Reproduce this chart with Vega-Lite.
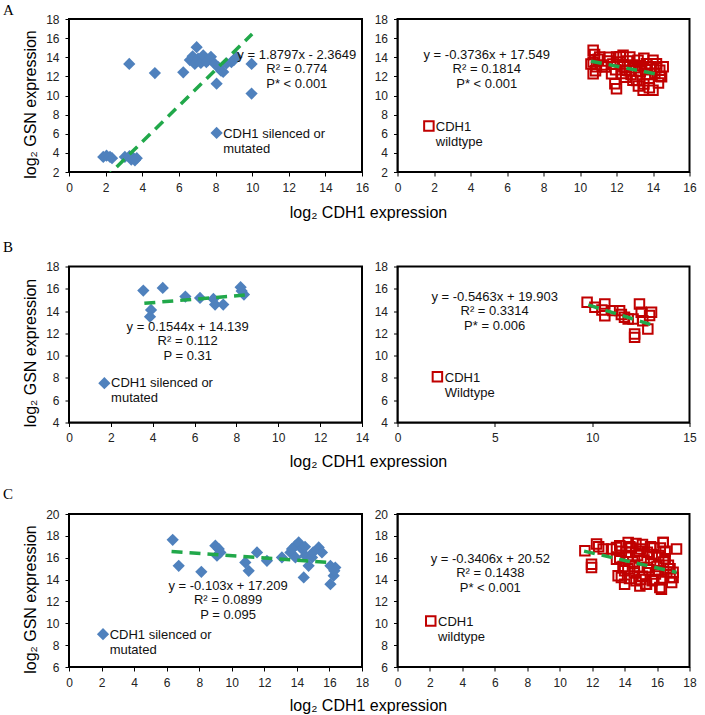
{
"$schema":"https://vega.github.io/schema/vega-lite/v6.json",
"padding":{"left":2,"top":2,"right":0,"bottom":0},
"background":"white",
"bounds":"flush",
"spacing":247.5,
"config":{
 "view":{"stroke":"#000","strokeWidth":2},
 "axis":{"grid":false,"format":"d","tickCount":100,"labelOverlap":false,"labelFlush":false,"labelFont":"Liberation Sans","labelFontSize":12,"labelColor":"#222","domainColor":"#000","domainWidth":1,"tickColor":"#000","tickSize":4,"labelPadding":6,"titleFont":"Liberation Sans","titleFontSize":16,"titleFontWeight":"normal","titleColor":"#000"},
 "text":{"font":"Liberation Sans","fontSize":13,"color":"#111"},
 "title":{"font":"Liberation Serif","fontSize":15,"fontWeight":"normal","color":"#000","anchor":"start","frame":"group","offset":0}
},
"datasets":{
 "aL":[{"x":1.87,"y":3.57},{"x":2.05,"y":3.7},{"x":2.24,"y":3.57},{"x":2.35,"y":3.45},{"x":3.05,"y":3.57},{"x":3.3,"y":3.65},{"x":3.4,"y":3.3},{"x":3.5,"y":3.5},{"x":3.6,"y":3.22},{"x":3.7,"y":3.45},{"x":3.29,"y":13.3},{"x":4.69,"y":12.35},{"x":6.24,"y":12.42},{"x":6.6,"y":13.7},{"x":6.75,"y":14.1},{"x":6.87,"y":13.3},{"x":6.97,"y":15.05},{"x":7.05,"y":13.85},{"x":7.2,"y":13.4},{"x":7.33,"y":14.2},{"x":7.5,"y":13.5},{"x":7.6,"y":13.7},{"x":7.75,"y":14.05},{"x":7.96,"y":13.3},{"x":8.15,"y":12.98},{"x":8.3,"y":12.6},{"x":8.42,"y":12.46},{"x":8.06,"y":11.23},{"x":8.6,"y":13.35},{"x":8.87,"y":13.5},{"x":9.0,"y":13.7},{"x":9.15,"y":14.03},{"x":9.97,"y":13.3},{"x":9.97,"y":10.2}],
 "aR":[{"x":10.72,"y":14.73},{"x":10.8,"y":14.3},{"x":10.6,"y":13.3},{"x":10.72,"y":13.5},{"x":10.72,"y":12.28},{"x":10.9,"y":13.0},{"x":11.0,"y":13.8},{"x":11.08,"y":14.03},{"x":11.2,"y":13.2},{"x":10.85,"y":12.6},{"x":11.36,"y":12.98},{"x":11.5,"y":13.6},{"x":11.73,"y":12.28},{"x":11.8,"y":13.3},{"x":11.91,"y":11.23},{"x":12.0,"y":10.7},{"x":12.0,"y":14.03},{"x":11.6,"y":14.0},{"x":11.95,"y":12.7},{"x":12.2,"y":13.5},{"x":12.36,"y":14.2},{"x":12.55,"y":12.63},{"x":12.4,"y":13.0},{"x":12.73,"y":14.03},{"x":12.6,"y":13.6},{"x":12.8,"y":12.2},{"x":12.9,"y":13.2},{"x":12.5,"y":11.9},{"x":12.3,"y":12.3},{"x":12.9,"y":11.6},{"x":12.2,"y":14.05},{"x":13.18,"y":13.68},{"x":13.1,"y":11.58},{"x":13.3,"y":12.5},{"x":13.46,"y":10.54},{"x":13.5,"y":13.9},{"x":13.64,"y":13.33},{"x":13.5,"y":11.2},{"x":13.7,"y":12.2},{"x":13.8,"y":11.8},{"x":13.9,"y":13.0},{"x":14.0,"y":10.54},{"x":14.0,"y":13.7},{"x":14.19,"y":13.33},{"x":14.1,"y":12.3},{"x":14.37,"y":12.63},{"x":14.3,"y":11.3},{"x":14.47,"y":11.96},{"x":14.56,"y":13.0},{"x":14.2,"y":12.9},{"x":13.3,"y":13.1},{"x":13.0,"y":12.9},{"x":12.7,"y":12.6},{"x":13.6,"y":12.7},{"x":14.4,"y":12.0},{"x":13.2,"y":11.0},{"x":13.8,"y":10.8}],
 "bL":[{"x":3.55,"y":15.84},{"x":4.48,"y":16.08},{"x":3.92,"y":14.1},{"x":3.87,"y":13.5},{"x":5.56,"y":15.3},{"x":6.26,"y":15.18},{"x":6.9,"y":15.09},{"x":6.98,"y":14.58},{"x":7.37,"y":14.58},{"x":8.2,"y":16.14},{"x":8.36,"y":15.48},{"x":8.25,"y":15.8}],
 "bR":[{"x":9.74,"y":14.79},{"x":10.14,"y":14.34},{"x":10.65,"y":14.64},{"x":10.65,"y":13.59},{"x":10.5,"y":14.1},{"x":11.06,"y":14.04},{"x":11.41,"y":14.04},{"x":11.5,"y":13.7},{"x":11.66,"y":13.45},{"x":11.85,"y":13.29},{"x":12.43,"y":14.64},{"x":12.52,"y":13.9},{"x":12.95,"y":13.6},{"x":13.05,"y":13.89},{"x":12.6,"y":13.14},{"x":12.86,"y":12.39},{"x":12.18,"y":11.94},{"x":12.18,"y":11.64},{"x":12.1,"y":13.29}],
 "cL":[{"x":6.37,"y":17.64},{"x":6.74,"y":15.26},{"x":8.13,"y":14.71},{"x":8.99,"y":17.1},{"x":9.2,"y":16.8},{"x":9.3,"y":16.48},{"x":9.09,"y":16.18},{"x":10.83,"y":15.57},{"x":11.04,"y":14.8},{"x":11.55,"y":16.48},{"x":12.16,"y":15.72},{"x":13.08,"y":16.02},{"x":13.6,"y":16.48},{"x":13.91,"y":17.1},{"x":14.11,"y":17.4},{"x":14.31,"y":16.8},{"x":14.52,"y":16.18},{"x":14.72,"y":15.26},{"x":14.42,"y":14.19},{"x":13.91,"y":16.02},{"x":15.34,"y":16.94},{"x":15.54,"y":16.48},{"x":16.06,"y":15.26},{"x":16.36,"y":15.1},{"x":16.26,"y":14.35},{"x":16.06,"y":13.58},{"x":14.93,"y":16.02},{"x":13.7,"y":16.8},{"x":14.5,"y":17.0},{"x":15.0,"y":16.5},{"x":16.3,"y":14.8}],
 "cR":[{"x":11.55,"y":16.64},{"x":11.96,"y":15.41},{"x":11.96,"y":15.1},{"x":12.27,"y":17.25},{"x":12.4,"y":17.0},{"x":12.68,"y":16.79},{"x":13.19,"y":16.79},{"x":13.5,"y":16.94},{"x":13.5,"y":15.87},{"x":13.7,"y":17.1},{"x":14.22,"y":17.4},{"x":14.32,"y":17.0},{"x":16.38,"y":17.4},{"x":17.2,"y":16.79},{"x":13.6,"y":14.35},{"x":13.8,"y":14.19},{"x":14.0,"y":13.58},{"x":13.9,"y":15.2},{"x":13.7,"y":16.0},{"x":14.1,"y":16.5},{"x":14.2,"y":15.0},{"x":14.3,"y":14.1},{"x":14.4,"y":16.9},{"x":14.5,"y":15.6},{"x":14.6,"y":14.6},{"x":14.7,"y":13.9},{"x":14.8,"y":16.2},{"x":14.94,"y":13.42},{"x":14.9,"y":15.1},{"x":15.0,"y":16.8},{"x":15.1,"y":14.3},{"x":15.2,"y":15.8},{"x":15.3,"y":13.6},{"x":15.35,"y":13.58},{"x":15.4,"y":16.5},{"x":15.5,"y":14.9},{"x":15.6,"y":15.5},{"x":15.7,"y":13.9},{"x":15.8,"y":16.9},{"x":15.9,"y":14.5},{"x":16.0,"y":15.2},{"x":16.1,"y":16.2},{"x":16.17,"y":13.27},{"x":16.27,"y":13.12},{"x":16.3,"y":14.0},{"x":16.4,"y":15.6},{"x":16.5,"y":16.6},{"x":16.6,"y":14.7},{"x":16.7,"y":15.3},{"x":16.8,"y":14.2},{"x":16.9,"y":13.73},{"x":16.99,"y":14.19},{"x":16.99,"y":14.66},{"x":16.37,"y":17.4},{"x":16.2,"y":16.9},{"x":15.6,"y":17.0},{"x":15.1,"y":17.2},{"x":14.7,"y":17.3},{"x":14.2,"y":16.2},{"x":14.0,"y":14.8},{"x":15.0,"y":14.0},{"x":15.8,"y":14.0},{"x":16.5,"y":15.9},{"x":15.4,"y":15.1},{"x":14.6,"y":15.2},{"x":16.1,"y":14.8},{"x":15.7,"y":16.3},{"x":14.9,"y":16.6},{"x":16.8,"y":15.0},{"x":13.8,"y":16.6}],
 "aLt":[{"x":1.9,"y":1.207},{"x":10,"y":16.432}],
 "aRt":[{"x":10.6,"y":13.589},{"x":14.4,"y":12.169}],
 "bLt":[{"x":3.6,"y":14.695},{"x":8.4,"y":15.436}],
 "bRt":[{"x":9.8,"y":14.549},{"x":13.1,"y":12.746}],
 "cLt":[{"x":6.3,"y":16.56},{"x":16.1,"y":15.55}],
 "cRt":[{"x":11.5,"y":16.603},{"x":17.2,"y":14.662}]
},
"vconcat":[
 {"hconcat":[
  {"width":293,"height":153,
   "title":{"text":"A","dx":-66,"dy":9},
   "layer":[
    {"data":{"name":"aL"},"mark":{"type":"point","shape":"diamond","filled":true,"size":150,"color":"#4F81BD","opacity":1},
     "encoding":{"x":{"field":"x","type":"quantitative","scale":{"domain":[0,16],"nice":false,"zero":false},"axis":{"values":[0,2,4,6,8,10,12,14,16],"format":"d","tickCount":100,"labelOverlap":false,"title":"log₂ CDH1 expression","titleX":299,"titleY":40,"titleBaseline":"middle","titleAlign":"center"}},
                 "y":{"field":"y","type":"quantitative","scale":{"domain":[2,18],"nice":false,"zero":false},"axis":{"values":[2,4,6,8,10,12,14,16,18],"format":"d","tickCount":100,"labelOverlap":false,"title":"log₂ GSN expression","titleX":-39,"titleY":85,"titleBaseline":"middle","titleAlign":"center","titleAngle":270}}}},
    {"data":{"name":"aLt"},"mark":{"type":"line","color":"#21A84A","strokeWidth":3.5,"strokeDash":[11,7],"clip":true},"encoding":{"x":{"field":"x","type":"quantitative"},"y":{"field":"y","type":"quantitative"}}},
    {"data":{"values":[{"t":"y = 1.8797x - 2.3649\nR² = 0.774\nP* < 0.001"}]},"mark":{"type":"text","align":"center","baseline":"alphabetic","lineBreak":"\n","lineHeight":14.5},"encoding":{"x":{"datum":12.44},"y":{"datum":13.85},"text":{"field":"t"}}},
    {"data":{"values":[{"k":"m"}]},"mark":{"type":"point","shape":"diamond","filled":true,"size":150,"color":"#4F81BD","opacity":1},"encoding":{"x":{"datum":8.06},"y":{"datum":6.08}}},
    {"data":{"values":[{"t":"CDH1 silenced or\nmutated"}]},"mark":{"type":"text","align":"left","baseline":"alphabetic","lineBreak":"\n","lineHeight":15},"encoding":{"x":{"datum":8.42},"y":{"datum":5.59},"text":{"field":"t"}}}
   ]},
  {"width":292,"height":153,
   "layer":[
    {"data":{"name":"aR"},"mark":{"type":"point","shape":"square","filled":false,"size":90,"strokeWidth":2,"color":"#C00000","opacity":1},
     "encoding":{"x":{"field":"x","type":"quantitative","scale":{"domain":[0,16],"nice":false,"zero":false},"axis":{"values":[0,2,4,6,8,10,12,14,16],"format":"d","tickCount":100,"labelOverlap":false,"title":null}},
                 "y":{"field":"y","type":"quantitative","scale":{"domain":[2,18],"nice":false,"zero":false},"axis":{"values":[2,4,6,8,10,12,14,16,18],"format":"d","tickCount":100,"labelOverlap":false,"title":null}}}},
    {"data":{"name":"aRt"},"mark":{"type":"line","color":"#21A84A","strokeWidth":3.5,"strokeDash":[11,7],"clip":true},"encoding":{"x":{"field":"x","type":"quantitative"},"y":{"field":"y","type":"quantitative"}}},
    {"data":{"values":[{"t":"y = -0.3736x + 17.549\nR² = 0.1814\nP* < 0.001"}]},"mark":{"type":"text","align":"center","baseline":"alphabetic","lineBreak":"\n","lineHeight":14.5},"encoding":{"x":{"datum":4.89},"y":{"datum":13.85},"text":{"field":"t"}}},
    {"data":{"values":[{"k":"m"}]},"mark":{"type":"point","shape":"square","filled":false,"size":90,"strokeWidth":2,"color":"#C00000","opacity":1},"encoding":{"x":{"datum":1.72},"y":{"datum":6.81}}},
    {"data":{"values":[{"t":"CDH1\nwildtype"}]},"mark":{"type":"text","align":"left","baseline":"alphabetic","lineBreak":"\n","lineHeight":15},"encoding":{"x":{"datum":2.1},"y":{"datum":6.25},"text":{"field":"t"}}}
   ]}
 ],"spacing":35.5,"bounds":"flush"},
 {"hconcat":[
  {"width":293,"height":156,
   "title":{"text":"B","dx":-66,"dy":-1.5},
   "layer":[
    {"data":{"name":"bL"},"mark":{"type":"point","shape":"diamond","filled":true,"size":150,"color":"#4F81BD","opacity":1},
     "encoding":{"x":{"field":"x","type":"quantitative","scale":{"domain":[0,14],"nice":false,"zero":false},"axis":{"values":[0,2,4,6,8,10,12,14],"format":"d","tickCount":100,"labelOverlap":false,"title":"log₂ CDH1 expression","titleX":299,"titleY":39,"titleBaseline":"middle","titleAlign":"center"}},
                 "y":{"field":"y","type":"quantitative","scale":{"domain":[4,18],"nice":false,"zero":false},"axis":{"values":[4,6,8,10,12,14,16,18],"format":"d","tickCount":100,"labelOverlap":false,"title":"log₂ GSN expression","titleX":-39,"titleY":86,"titleBaseline":"middle","titleAlign":"center","titleAngle":270}}}},
    {"data":{"name":"bLt"},"mark":{"type":"line","color":"#21A84A","strokeWidth":3.5,"strokeDash":[11,7],"clip":true},"encoding":{"x":{"field":"x","type":"quantitative"},"y":{"field":"y","type":"quantitative"}}},
    {"data":{"values":[{"t":"y = 0.1544x + 14.139\nR² = 0.112\nP = 0.31"}]},"mark":{"type":"text","align":"center","baseline":"alphabetic","lineBreak":"\n","lineHeight":14.5},"encoding":{"x":{"datum":5.67},"y":{"datum":12.24},"text":{"field":"t"}}},
    {"data":{"values":[{"k":"m"}]},"mark":{"type":"point","shape":"diamond","filled":true,"size":150,"color":"#4F81BD","opacity":1},"encoding":{"x":{"datum":1.69},"y":{"datum":7.53}}},
    {"data":{"values":[{"t":"CDH1 silenced or\nmutated"}]},"mark":{"type":"text","align":"left","baseline":"alphabetic","lineBreak":"\n","lineHeight":15},"encoding":{"x":{"datum":2.01},"y":{"datum":7.2},"text":{"field":"t"}}}
   ]},
  {"width":292,"height":156,
   "layer":[
    {"data":{"name":"bR"},"mark":{"type":"point","shape":"square","filled":false,"size":90,"strokeWidth":2,"color":"#C00000","opacity":1},
     "encoding":{"x":{"field":"x","type":"quantitative","scale":{"domain":[0,15],"nice":false,"zero":false},"axis":{"values":[0,5,10,15],"format":"d","tickCount":100,"labelOverlap":false,"title":null}},
                 "y":{"field":"y","type":"quantitative","scale":{"domain":[4,18],"nice":false,"zero":false},"axis":{"values":[4,6,8,10,12,14,16,18],"format":"d","tickCount":100,"labelOverlap":false,"title":null}}}},
    {"data":{"name":"bRt"},"mark":{"type":"line","color":"#21A84A","strokeWidth":3.5,"strokeDash":[11,7],"clip":true},"encoding":{"x":{"field":"x","type":"quantitative"},"y":{"field":"y","type":"quantitative"}}},
    {"data":{"values":[{"t":"y = -0.5463x + 19.903\nR² = 0.3314\nP* = 0.006"}]},"mark":{"type":"text","align":"center","baseline":"alphabetic","lineBreak":"\n","lineHeight":14.5},"encoding":{"x":{"datum":4.99},"y":{"datum":14.94},"text":{"field":"t"}}},
    {"data":{"values":[{"k":"m"}]},"mark":{"type":"point","shape":"square","filled":false,"size":90,"strokeWidth":2,"color":"#C00000","opacity":1},"encoding":{"x":{"datum":2.05},"y":{"datum":8.1}}},
    {"data":{"values":[{"t":"CDH1\nWildtype"}]},"mark":{"type":"text","align":"left","baseline":"alphabetic","lineBreak":"\n","lineHeight":15},"encoding":{"x":{"datum":2.43},"y":{"datum":7.65},"text":{"field":"t"}}}
   ]}
 ],"spacing":35.5,"bounds":"flush"},
 {"hconcat":[
  {"width":293,"height":153,
   "title":{"text":"C","dx":-66,"dy":-2.5},
   "layer":[
    {"data":{"name":"cL"},"mark":{"type":"point","shape":"diamond","filled":true,"size":150,"color":"#4F81BD","opacity":1},
     "encoding":{"x":{"field":"x","type":"quantitative","scale":{"domain":[0,18],"nice":false,"zero":false},"axis":{"values":[0,2,4,6,8,10,12,14,16,18],"format":"d","tickCount":100,"labelOverlap":false,"title":"log₂ CDH1 expression","titleX":299,"titleY":38,"titleBaseline":"middle","titleAlign":"center"}},
                 "y":{"field":"y","type":"quantitative","scale":{"domain":[6,20],"nice":false,"zero":false},"axis":{"values":[6,8,10,12,14,16,18,20],"format":"d","tickCount":100,"labelOverlap":false,"title":"log₂ GSN expression","titleX":-39,"titleY":85,"titleBaseline":"middle","titleAlign":"center","titleAngle":270}}}},
    {"data":{"name":"cLt"},"mark":{"type":"line","color":"#21A84A","strokeWidth":3.5,"strokeDash":[11,7],"clip":true},"encoding":{"x":{"field":"x","type":"quantitative"},"y":{"field":"y","type":"quantitative"}}},
    {"data":{"values":[{"t":"y = -0.103x + 17.209\nR² = 0.0899\nP =  0.095"}]},"mark":{"type":"text","align":"center","baseline":"alphabetic","lineBreak":"\n","lineHeight":14.5},"encoding":{"x":{"datum":9.77},"y":{"datum":13.06},"text":{"field":"t"}}},
    {"data":{"values":[{"k":"m"}]},"mark":{"type":"point","shape":"diamond","filled":true,"size":150,"color":"#4F81BD","opacity":1},"encoding":{"x":{"datum":2.09},"y":{"datum":9.0}}},
    {"data":{"values":[{"t":"CDH1 silenced or\nmutated"}]},"mark":{"type":"text","align":"left","baseline":"alphabetic","lineBreak":"\n","lineHeight":15},"encoding":{"x":{"datum":2.5},"y":{"datum":8.6},"text":{"field":"t"}}}
   ]},
  {"width":292,"height":153,
   "layer":[
    {"data":{"name":"cR"},"mark":{"type":"point","shape":"square","filled":false,"size":90,"strokeWidth":2,"color":"#C00000","opacity":1},
     "encoding":{"x":{"field":"x","type":"quantitative","scale":{"domain":[0,18],"nice":false,"zero":false},"axis":{"values":[0,2,4,6,8,10,12,14,16,18],"format":"d","tickCount":100,"labelOverlap":false,"title":null}},
                 "y":{"field":"y","type":"quantitative","scale":{"domain":[6,20],"nice":false,"zero":false},"axis":{"values":[6,8,10,12,14,16,18,20],"format":"d","tickCount":100,"labelOverlap":false,"title":null}}}},
    {"data":{"name":"cRt"},"mark":{"type":"line","color":"#21A84A","strokeWidth":3.5,"strokeDash":[11,7],"clip":true},"encoding":{"x":{"field":"x","type":"quantitative"},"y":{"field":"y","type":"quantitative"}}},
    {"data":{"values":[{"t":"y = -0.3406x + 20.52\nR² = 0.1438\nP* < 0.001"}]},"mark":{"type":"text","align":"center","baseline":"alphabetic","lineBreak":"\n","lineHeight":14.5},"encoding":{"x":{"datum":5.72},"y":{"datum":15.56},"text":{"field":"t"}}},
    {"data":{"values":[{"k":"m"}]},"mark":{"type":"point","shape":"square","filled":false,"size":90,"strokeWidth":2,"color":"#C00000","opacity":1},"encoding":{"x":{"datum":2.05},"y":{"datum":10.22}}},
    {"data":{"values":[{"t":"CDH1\nwildtype"}]},"mark":{"type":"text","align":"left","baseline":"alphabetic","lineBreak":"\n","lineHeight":15},"encoding":{"x":{"datum":2.5},"y":{"datum":9.76},"text":{"field":"t"}}}
   ]}
 ],"spacing":35.5,"bounds":"flush"}
]
}
